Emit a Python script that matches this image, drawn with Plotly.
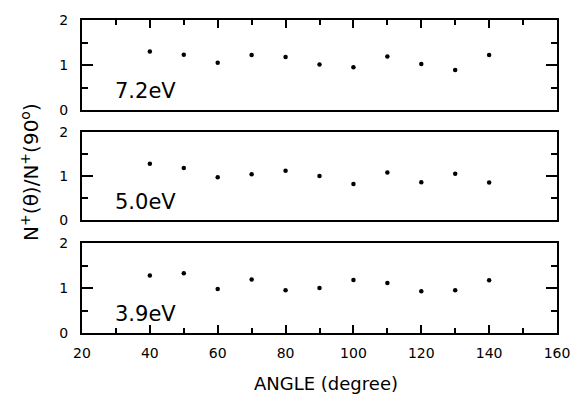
import plotly.graph_objects as go

angles = [40, 50, 60, 70, 80, 90, 100, 110, 120, 130, 140]
ratio_72 = [1.30, 1.23, 1.05, 1.22, 1.18, 1.01, 0.95, 1.19, 1.02, 0.89, 1.22]
ratio_50 = [1.28, 1.18, 0.97, 1.04, 1.12, 1.00, 0.82, 1.08, 0.86, 1.05, 0.85]
ratio_39 = [1.28, 1.33, 0.98, 1.19, 0.95, 1.00, 1.18, 1.11, 0.93, 0.95, 1.17]
panel_labels = ["7.2eV", "5.0eV", "3.9eV"]
x_ticks = [20, 40, 60, 80, 100, 120, 140, 160]
x_minor_ticks = [30, 50, 70, 90, 110, 130, 150]
y_ticks = [0, 1, 2]
y_minor_ticks = [0.5, 1.5]
x_range = [20, 160]
y_range = [0, 2]

W, H = 582, 394
ml, mr, mt, mb = 82, 17, 20, 61
ph = H - mt - mb  # 313

def dom(top_px, bot_px):
    return [(H - mb - bot_px) / ph, (H - mb - top_px) / ph]

domains = [dom(20, 110), dom(132, 220), dom(243, 333)]
series = [ratio_72, ratio_50, ratio_39]

fig = go.Figure()
font_main = "DejaVu Sans"

for i, ys in enumerate(series):
    axn = 3 - i
    xa = "x" if axn == 1 else f"x{axn}"
    ya = "y" if axn == 1 else f"y{axn}"
    fig.add_trace(go.Scatter(x=angles, y=ys, mode="markers",
                             marker=dict(color="black", size=4.5),
                             xaxis=xa, yaxis=ya, showlegend=False, hoverinfo="skip"))
    fig.add_annotation(x=29, y=0.42, xref=xa, yref=ya, text=panel_labels[i],
                       showarrow=False, xanchor="left", yanchor="middle",
                       font=dict(family=font_main, size=21, color="black"))

x_minor = dict(tickmode="array", tickvals=x_minor_ticks, ticks="inside", ticklen=5,
               tickwidth=2, tickcolor="black")
y_minor = dict(tickmode="array", tickvals=y_minor_ticks, ticks="inside", ticklen=6,
               tickwidth=2, tickcolor="black")

def xaxis(**kw):
    d = dict(range=x_range, showgrid=False, zeroline=False, showline=True,
             linecolor="black", linewidth=2, mirror=True,
             tickmode="array", tickvals=x_ticks, tickcolor="black", tickwidth=2,
             tickfont=dict(family=font_main, size=14, color="black"))
    d.update(kw)
    return d

def yaxis(**kw):
    d = dict(range=y_range, showgrid=False, zeroline=False, showline=True,
             linecolor="black", linewidth=2, mirror="allticks",
             tickmode="array", tickvals=y_ticks, ticks="inside", ticklen=11, tickwidth=2,
             tickcolor="black", ticklabelstandoff=9, minor=y_minor,
             tickfont=dict(family=font_main, size=14, color="black"))
    d.update(kw)
    return d

fig.update_layout(
    width=W, height=H, margin=dict(l=ml, r=mr, t=mt, b=mb),
    plot_bgcolor="white", paper_bgcolor="white",
    xaxis=xaxis(domain=[0, 1], anchor="y", ticks="inside", ticklen=8, minor=x_minor,
                ticklabelstandoff=6),
    yaxis=yaxis(domain=domains[2], anchor="x"),
    xaxis2=xaxis(domain=[0, 1], anchor="y2", ticks="", showticklabels=False),
    yaxis2=yaxis(domain=domains[1], anchor="x2"),
    xaxis3=xaxis(domain=[0, 1], anchor="y3", side="top", ticks="inside", ticklen=8,
                 showticklabels=False, minor=x_minor),
    yaxis3=yaxis(domain=domains[0], anchor="x3"),
)

fig.add_annotation(xref="paper", yref="paper", x=(29 - ml) / (W - ml - mr),
                   y=((H - mb) - 172) / ph,
                   text="N<sup>+</sup>(θ)/N<sup>+</sup>(90<sup>o</sup>)",
                   textangle=-90, showarrow=False, xanchor="center", yanchor="middle",
                   font=dict(family=font_main, size=20, color="black"))
fig.add_annotation(xref="paper", yref="paper", x=(330 - ml) / (W - ml - mr),
                   y=((H - mb) - 383) / ph, text="ANGLE (degree)",
                   showarrow=False, xanchor="center", yanchor="middle",
                   font=dict(family=font_main, size=18, color="black"))

fig.write_html("out.html", config={"displayModeBar": False},
               post_script="document.body.style.margin='0';")
